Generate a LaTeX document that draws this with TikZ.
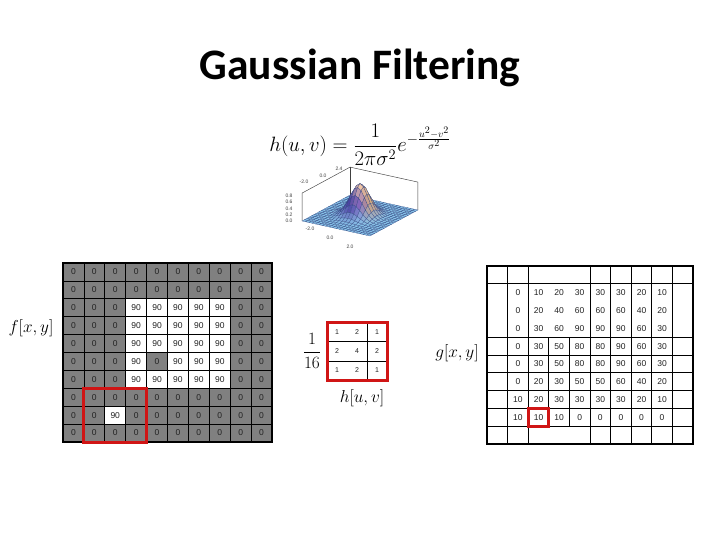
\documentclass[tikz,border=0pt]{standalone}
\usepackage{fontspec}
\newfontfamily\numfont{Liberation Sans}
\newfontfamily\titlefont{Carlito}
\definecolor{cellgrey}{HTML}{808080}
\definecolor{redbox}{HTML}{D01515}
\definecolor{numtxt}{HTML}{222222}
\definecolor{lowc}{RGB}{135,195,232}
\definecolor{midc}{RGB}{130,100,190}
\definecolor{topc}{RGB}{250,205,165}
\definecolor{darkside}{RGB}{45,45,150}
\definecolor{lightside}{RGB}{245,200,95}
\definecolor{meshc}{RGB}{55,75,135}
\newcommand\gpt[2]{({360+9.7*(#1)+6.86*(#2)},{-215.5-2.14*(#1)+3.71*(#2)+32*exp(-((#1)*(#1)+(#2)*(#2))/1.4)})}
\newcommand\bpt[3]{({360+9.7*(#1)+6.86*(#2)},{-215.5-2.14*(#1)+3.71*(#2)+31*(#3)})}
\begin{document}
\begin{tikzpicture}[x=1pt,y=1pt,
  lcell/.style={draw=black, line width=0.8pt, minimum width=20.9pt, minimum height=17.9pt, inner sep=0pt, outer sep=0pt, font=\numfont\fontsize{8.5}{8.5}\selectfont, text=numtxt},
  lv0/.style={fill=cellgrey},
  lv90/.style={fill=white},
  rnum/.style={inner sep=0pt, font=\numfont\fontsize{8.5}{8.5}\selectfont, text=numtxt},
  kcell/.style={inner sep=0pt, font=\numfont\fontsize{7}{7}\selectfont, text=numtxt},
  thin grid/.style={draw=black, line width=0.8pt},
  thick frame/.style={draw=black, line width=2.6pt},
  red frame/.style={draw=redbox, line width=3pt},
  mathlab/.style={inner sep=0pt, font=\fontsize{16}{16}\selectfont},
  ticklab/.style={inner sep=0pt, font=\numfont\fontsize{5}{5}\selectfont, text=black!75},
  boxline/.style={draw=black!75, line width=0.45pt}
]
\useasboundingbox[fill=white] (0,0) rectangle (720,-540);

% title
\node[inner sep=0pt, font=\titlefont\bfseries\fontsize{43.5}{43.5}\selectfont] (title) at (360,-68) {Gaussian Filtering};

% formula
\node[inner sep=0pt, font=\fontsize{20}{20}\selectfont] (formula) at (360,-145)
  {$\displaystyle h(u,v)=\frac{1}{2\pi\sigma^2}e^{-\frac{u^2-v^2}{\sigma^2}}$};

% 3D gaussian plot: back box edges
\draw[boxline] \bpt{-3.5}{-3.5}{0} -- \bpt{-3.5}{-3.5}{0.9} -- \bpt{-3.5}{3.5}{0.9} -- \bpt{3.5}{3.5}{0.9} -- \bpt{3.5}{3.5}{0};
\draw[boxline] \bpt{-3.5}{3.5}{0} -- \bpt{-3.5}{3.5}{0.9};
% surface, back to front
\foreach \j in {19,18,...,0} {
  \foreach \i in {0,...,19} {
    \pgfmathsetmacro\xa{-3.5+\i*0.35}
    \pgfmathsetmacro\xb{\xa+0.35}
    \pgfmathsetmacro\ya{-3.5+\j*0.35}
    \pgfmathsetmacro\yb{\ya+0.35}
    \pgfmathsetmacro\xc{\xa+0.175}
    \pgfmathsetmacro\yc{\ya+0.175}
    \pgfmathsetmacro\tz{exp(-(\xc*\xc+\yc*\yc)/1.4)}
    \ifdim\tz pt<0.45pt
      \pgfmathtruncatemacro\pm{100*\tz/0.45}
      \colorlet{cc}{midc!\pm!lowc}
    \else
      \pgfmathtruncatemacro\pm{100*(\tz-0.45)/0.55}
      \colorlet{cc}{topc!\pm!midc}
    \fi
    \pgfmathsetmacro\sd{\xc+0.7*\yc}
    \pgfmathtruncatemacro\amt{100*min(1,2.5*\tz)*min(1,abs(\sd)/1.0)*0.65}
    \ifdim\sd pt<0pt
      \colorlet{cc}{darkside!\amt!cc}
    \else
      \colorlet{cc}{lightside!\amt!cc}
    \fi
    \filldraw[fill=cc, draw=meshc, line width=0.2pt] \gpt{\xa}{\ya} -- \gpt{\xb}{\ya} -- \gpt{\xb}{\yb} -- \gpt{\xa}{\yb} -- cycle;
  }
}

% tick labels of the plot
\node[ticklab] (zt0) at (289,-221) {0.0};
\node[ticklab] (zt1) at (289,-215) {0.2};
\node[ticklab] (zt2) at (289,-208.5) {0.4};
\node[ticklab] (zt3) at (289,-202) {0.6};
\node[ticklab] (zt4) at (289,-196) {0.8};
\node[ticklab] (xt1) at (310,-229) {-2.0};
\node[ticklab] (xt2) at (330,-238) {0.0};
\node[ticklab] (xt3) at (350,-247) {2.0};
\node[ticklab] (yt1) at (304,-182) {-2.0};
\node[ticklab] (yt2) at (323,-176) {0.0};
\node[ticklab] (yt3) at (339,-169) {2.4};

% left grid f
\foreach \row [count=\r from 0] in {
 {0,0,0,0,0,0,0,0,0,0},
 {0,0,0,0,0,0,0,0,0,0},
 {0,0,0,90,90,90,90,90,0,0},
 {0,0,0,90,90,90,90,90,0,0},
 {0,0,0,90,90,90,90,90,0,0},
 {0,0,0,90,0,90,90,90,0,0},
 {0,0,0,90,90,90,90,90,0,0},
 {0,0,0,0,0,0,0,0,0,0},
 {0,0,90,0,0,0,0,0,0,0},
 {0,0,0,0,0,0,0,0,0,0}} {
  \foreach \v [count=\c from 0] in \row {
    \node[lcell, lv\v] (L-\r-\c) at ({63+20.9*(\c+0.5)},{-263-17.9*(\r+0.5)}) {\v};
  }
}
\draw[thick frame] (L-0-0.north west) rectangle (L-9-9.south east);
\draw[red frame] (L-7-1.north west) rectangle (L-9-3.south east);
\node[mathlab] (flab) at (31,-328) {$f[x,y]$};

% kernel
\foreach \row [count=\r from 0] in {{1,2,1},{2,4,2},{1,2,1}} {
  \foreach \v [count=\c from 0] in \row {
    \node[kcell] (K-\r-\c) at ({327+20*(\c+0.5)},{-322.5-19.2*(\r+0.5)}) {\v};
  }
}
\draw[thin grid] (327,-341.7) -- (387,-341.7);
\draw[thin grid] (327,-360.9) -- (387,-360.9);
\draw[thin grid] (367,-322.5) -- (367,-380.1);
\draw[red frame] (327,-322.5) rectangle (387,-380.1);
\node[inner sep=0pt, font=\fontsize{17}{17}\selectfont] (frac) at (312,-351) {$\displaystyle\frac{1}{16}$};
\node[mathlab] (hlab) at (362,-398) {$h[u,v]$};

% right grid g
\foreach \row [count=\r from 0] in {
 {0,10,20,30,30,30,20,10},
 {0,20,40,60,60,60,40,20},
 {0,30,60,90,90,90,60,30},
 {0,30,50,80,80,90,60,30},
 {0,30,50,80,80,90,60,30},
 {0,20,30,50,50,60,40,20},
 {10,20,30,30,30,30,20,10},
 {10,10,10,0,0,0,0,0}} {
  \foreach \v [count=\c from 0] in \row {
    \node[rnum] (G-\r-\c) at ({487+20.6*(\c+1.5)},{-266-17.8*(\r+1.5)}) {\v};
  }
}
\foreach \k in {1,4,5,6,7,8,9} {
  \draw[thin grid] (487,{-266-17.8*\k}) -- (693,{-266-17.8*\k});
}
\foreach \k in {1,2,5,6,7,8,9} {
  \draw[thin grid] ({487+20.6*\k},-266) -- ({487+20.6*\k},-444);
}
\foreach \k in {3,4} {
  \draw[thin grid] ({487+20.6*\k},{-266-17.8*4}) -- ({487+20.6*\k},{-266-17.8*9});
}
\draw[thick frame] (487,-266) rectangle (693,-444);
\draw[red frame] (528.2,-408.4) rectangle (548.8,-426.2);
\node[mathlab] (glab) at (457,-353) {$g[x,y]$};
\end{tikzpicture}
\end{document}
